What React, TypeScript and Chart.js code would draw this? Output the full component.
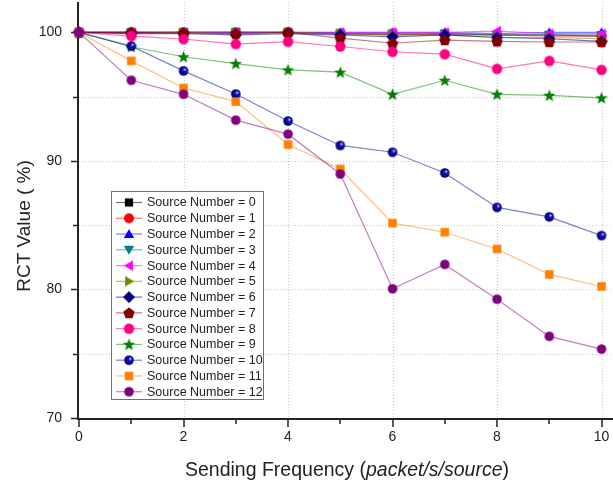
import React, { useEffect, useRef } from "react";
import { Chart, registerables } from "chart.js";

Chart.register(...registerables);

// ---------- data ----------
const xValues = [0, 1, 2, 3, 4, 5, 6, 7, 8, 9, 10];
const src0 = [100, 100, 100, 100, 100, 99.9, 99.8, 99.9, 99.8, 99.8, 99.7];
const src1 = [100, 100, 100, 100, 100, 99.9, 99.9, 99.8, 99.8, 99.7, 99.7];
const src2 = [100, 100, 100, 100, 100, 100, 100, 100, 99.9, 100, 100];
const src3 = [100, 100, 100, 100, 100, 99.9, 99.9, 99.9, 99.8, 99.8, 99.8];
const src4 = [100, 100, 100, 100, 100, 100, 100, 100, 100.1, 99.9, 99.9];
const src5 = [100, 99.9, 100, 99.9, 100, 99.9, 99.8, 99.8, 99.6, 99.6, 99.5];
const src6 = [100, 99.9, 99.9, 99.8, 99.9, 99.8, 99.65, 99.8, 99.6, 99.5, 99.3];
const src7 = [100, 100, 99.95, 99.9, 100, 99.55, 99.15, 99.4, 99.3, 99.25, 99.25];
const src8 = [100, 99.71, 99.48, 99.09, 99.27, 98.9, 98.49, 98.3, 97.16, 97.78, 97.08];
const src9 = [100, 98.88, 98.1, 97.57, 97.08, 96.9, 95.18, 96.27, 95.18, 95.1, 94.9];
const src10 = [100, 98.93, 97.0, 95.2, 93.1, 91.2, 90.67, 89.06, 86.38, 85.65, 84.19];
const src11 = [100, 97.78, 95.67, 94.61, 91.27, 89.37, 85.16, 84.45, 83.15, 81.17, 80.23];
const src12 = [100, 96.27, 95.18, 93.17, 92.08, 88.98, 80.05, 81.95, 79.24, 76.35, 75.36];

const seriesValues = [src0, src1, src2, src3, src4, src5, src6, src7, src8, src9, src10, src11, src12];
const seriesLabels = seriesValues.map((_, i) => `Source Number = ${i}`);

const xMajorTicks = [0, 2, 4, 6, 8, 10];
const xMinorTicks = [1, 3, 5, 7, 9];
const yMajorTicks = [70, 80, 90, 100];
const yMinorTicks = [75, 85, 95];
const xGrid = [2, 4, 6, 8, 10];
const yGrid = [75, 80, 85, 90, 95];

const xTitleNormal1 = "Sending Frequency (";
const xTitleItalic = "packet/s/source";
const xTitleNormal2 = ")";
const yTitle = "RCT Value ( %)";

// ---------- styles ----------
const markerColors = [
  "#000000", "#ff0000", "#0000ff", "#008080", "#ff00ff", "#808000", "#000080",
  "#800000", "#ff0080", "#008000", "#0000a0", "#ff8000", "#800080",
];
const lineColors = [
  "rgba(0,0,0,0.55)", "rgba(255,0,0,0.55)", "rgba(0,0,255,0.5)", "rgba(0,128,128,0.55)",
  "rgba(255,0,255,0.55)", "rgba(128,128,0,0.55)", "rgba(0,0,128,0.55)", "rgba(128,0,0,0.5)",
  "rgba(255,0,128,0.55)", "rgba(0,128,0,0.5)", "rgba(0,0,160,0.5)", "rgba(255,128,0,0.5)",
  "rgba(128,0,128,0.5)",
];
const markerShapes = [
  "square", "circle", "up", "down", "left", "right", "diamond",
  "pentagon", "circle", "star", "sphere", "square", "circle",
];
const markerSizes = [5, 5, 6, 6, 6, 6, 6, 6, 5.2, 6.5, 4.8, 5.2, 4.8];

const FONT = "'Liberation Sans', Arial, sans-serif";

function polyPath(g: CanvasRenderingContext2D, cx: number, cy: number, r: number, n: number, startDeg: number) {
  for (let k = 0; k < n; k++) {
    const a = ((startDeg + (k * 360) / n) * Math.PI) / 180;
    const px = cx + r * Math.cos(a);
    const py = cy + r * Math.sin(a);
    if (k === 0) g.moveTo(px, py);
    else g.lineTo(px, py);
  }
  g.closePath();
}

function makeMarker(shape: string, color: string, r: number): HTMLCanvasElement {
  const s = Math.ceil(r * 2 + 4);
  const c = document.createElement("canvas");
  c.width = s;
  c.height = s;
  const g = c.getContext("2d") as CanvasRenderingContext2D;
  const cx = s / 2;
  const cy = s / 2;
  g.fillStyle = color;
  g.beginPath();
  switch (shape) {
    case "square":
      g.rect(cx - r * 0.82, cy - r * 0.82, r * 1.64, r * 1.64);
      break;
    case "circle":
      g.arc(cx, cy, r, 0, Math.PI * 2);
      break;
    case "sphere": {
      const grad = g.createRadialGradient(cx + r * 0.35, cy - r * 0.35, 0.3, cx, cy, r);
      grad.addColorStop(0, "#c0c0ff");
      grad.addColorStop(0.35, "#1010b0");
      grad.addColorStop(1, "#000070");
      g.fillStyle = grad;
      g.arc(cx, cy, r, 0, Math.PI * 2);
      break;
    }
    case "up":
      polyPath(g, cx, cy + r * 0.15, r, 3, -90);
      break;
    case "down":
      polyPath(g, cx, cy - r * 0.15, r, 3, 90);
      break;
    case "left":
      polyPath(g, cx + r * 0.15, cy, r, 3, 180);
      break;
    case "right":
      polyPath(g, cx - r * 0.15, cy, r, 3, 0);
      break;
    case "diamond":
      polyPath(g, cx, cy, r, 4, -90);
      break;
    case "pentagon":
      polyPath(g, cx, cy + r * 0.08, r, 5, -90);
      break;
    case "star": {
      for (let k = 0; k < 10; k++) {
        const rr = k % 2 === 0 ? r : r * 0.42;
        const a = ((-90 + k * 36) * Math.PI) / 180;
        const px = cx + rr * Math.cos(a);
        const py = cy + 0.5 + rr * Math.sin(a);
        if (k === 0) g.moveTo(px, py);
        else g.lineTo(px, py);
      }
      g.closePath();
      break;
    }
  }
  g.fill();
  return c;
}

function zeroPadding(s: any) {
  s.paddingTop = 0;
  s.paddingBottom = 0;
  s.paddingLeft = 0;
  s.paddingRight = 0;
}

export default function App() {
  const ref = useRef<HTMLCanvasElement>(null);

  useEffect(() => {
    if (!ref.current) return;
    const markers = markerShapes.map((sh, i) => makeMarker(sh, markerColors[i], markerSizes[i]));

    const datasets = seriesValues.map((vals, i) => ({
      label: seriesLabels[i],
      data: xValues.map((x, j) => ({ x, y: vals[j] })),
      borderColor: lineColors[i],
      backgroundColor: markerColors[i],
      borderWidth: 1.2,
      pointStyle: markers[i],
      pointRadius: 5,
      pointHoverRadius: 5,
      tension: 0,
      clip: false as const,
      order: 12 - i,
    }));

    const decor = {
      id: "decor",
      beforeDatasetsDraw(chart: any) {
        const { ctx, chartArea: a, scales } = chart;
        const xs = scales.x;
        const ys = scales.y;
        ctx.save();
        // dotted grid
        ctx.strokeStyle = "#c8c8c8";
        ctx.lineWidth = 1;
        ctx.setLineDash([1, 2]);
        for (const v of xGrid) {
          const px = Math.round(xs.getPixelForValue(v)) + 0.5;
          ctx.beginPath();
          ctx.moveTo(px, a.top);
          ctx.lineTo(px, a.bottom);
          ctx.stroke();
        }
        for (const v of yGrid) {
          const py = Math.round(ys.getPixelForValue(v)) + 0.5;
          ctx.beginPath();
          ctx.moveTo(a.left, py);
          ctx.lineTo(a.right, py);
          ctx.stroke();
        }
        ctx.setLineDash([]);
        // axes
        ctx.strokeStyle = "#222";
        ctx.lineWidth = 2;
        ctx.beginPath();
        ctx.moveTo(a.left - 1, a.top);
        ctx.lineTo(a.left - 1, a.bottom + 2);
        ctx.stroke();
        ctx.beginPath();
        ctx.moveTo(a.left - 2, a.bottom + 1);
        ctx.lineTo(a.right, a.bottom + 1);
        ctx.stroke();
        // ticks
        ctx.lineWidth = 1.5;
        for (const v of yMajorTicks) {
          const py = Math.round(ys.getPixelForValue(v)) + 0.5;
          ctx.beginPath();
          ctx.moveTo(a.left - 2, py);
          ctx.lineTo(a.left - 8, py);
          ctx.stroke();
        }
        for (const v of yMinorTicks) {
          const py = Math.round(ys.getPixelForValue(v)) + 0.5;
          ctx.beginPath();
          ctx.moveTo(a.left - 2, py);
          ctx.lineTo(a.left - 6, py);
          ctx.stroke();
        }
        for (const v of xMajorTicks) {
          const px = Math.round(xs.getPixelForValue(v));
          ctx.beginPath();
          ctx.moveTo(px, a.bottom + 2);
          ctx.lineTo(px, a.bottom + 9);
          ctx.stroke();
        }
        for (const v of xMinorTicks) {
          const px = Math.round(xs.getPixelForValue(v));
          ctx.beginPath();
          ctx.moveTo(px, a.bottom + 2);
          ctx.lineTo(px, a.bottom + 6);
          ctx.stroke();
        }
        ctx.restore();
      },
      afterDatasetsDraw(chart: any) {
        const { ctx } = chart;
        ctx.save();
        const bx = 111.5, by = 191.5, bw = 152, bh = 208;
        ctx.fillStyle = "#fff";
        ctx.fillRect(bx, by, bw, bh);
        ctx.strokeStyle = "#707070";
        ctx.lineWidth = 1;
        ctx.strokeRect(bx, by, bw, bh);
        ctx.font = `12.5px ${FONT}`;
        ctx.textBaseline = "middle";
        ctx.textAlign = "left";
        seriesLabels.forEach((lab, i) => {
          const yy = 202.5 + i * 15.77;
          ctx.strokeStyle = lineColors[i];
          ctx.lineWidth = 1.2;
          ctx.beginPath();
          ctx.moveTo(116, yy);
          ctx.lineTo(142, yy);
          ctx.stroke();
          const m = markers[i];
          ctx.drawImage(m, 129 - m.width / 2, yy - m.height / 2);
          ctx.fillStyle = "#222";
          ctx.fillText(lab, 147, yy + 0.5);
        });
        ctx.restore();
      },
      afterDraw(chart: any) {
        const { ctx } = chart;
        ctx.save();
        ctx.fillStyle = "#222";
        // x title
        const fN = `19.5px ${FONT}`;
        const fI = `italic 19.5px ${FONT}`;
        ctx.font = fN;
        const w1 = ctx.measureText(xTitleNormal1).width;
        const w3 = ctx.measureText(xTitleNormal2).width;
        ctx.font = fI;
        const w2 = ctx.measureText(xTitleItalic).width;
        const total = w1 + w2 + w3;
        let sx = 347 - total / 2;
        const base = 476;
        ctx.textBaseline = "alphabetic";
        ctx.textAlign = "left";
        ctx.font = fN;
        ctx.fillText(xTitleNormal1, sx, base);
        sx += w1;
        ctx.font = fI;
        ctx.fillText(xTitleItalic, sx, base);
        sx += w2;
        ctx.font = fN;
        ctx.fillText(xTitleNormal2, sx, base);
        // y title
        ctx.translate(30, 226);
        ctx.rotate(-Math.PI / 2);
        ctx.font = `19px ${FONT}`;
        ctx.textAlign = "center";
        ctx.fillText(yTitle, 0, 0);
        ctx.restore();
      },
    };

    const chart = new Chart(ref.current, {
      type: "line",
      data: { datasets },
      options: {
        responsive: false,
        devicePixelRatio: 1,
        animation: false,
        layout: { autoPadding: false, padding: { top: 2, left: 0, right: 0, bottom: 0 } },
        plugins: {
          legend: { display: false },
          tooltip: { enabled: false },
          title: { display: false },
        },
        events: [],
        scales: {
          x: {
            type: "linear",
            min: 0,
            max: 10.22,
            grid: { display: false, drawTicks: false },
            border: { display: false },
            ticks: {
              stepSize: 2,
              includeBounds: false,
              autoSkip: false,
              maxRotation: 0,
              padding: 11,
              color: "#222",
              font: { family: FONT, size: 14 },
            },
            afterFit: (s: any) => {
              s.height = 66;
              zeroPadding(s);
            },
          },
          y: {
            type: "linear",
            min: 70,
            max: 102.36,
            grid: { display: false, drawTicks: false },
            border: { display: false },
            ticks: {
              stepSize: 10,
              includeBounds: false,
              padding: 17,
              color: "#222",
              font: { family: FONT, size: 14 },
            },
            afterFit: (s: any) => {
              s.width = 79;
              zeroPadding(s);
            },
          },
        },
      } as any,
      plugins: [decor],
    });
    return () => chart.destroy();
  }, []);

  return (
    <div style={{ position: "fixed", left: 0, top: 0, width: 613, height: 484, background: "#fff" }}>
      <canvas ref={ref} width={613} height={484} style={{ display: "block", width: 613, height: 484 }} />
    </div>
  );
}
